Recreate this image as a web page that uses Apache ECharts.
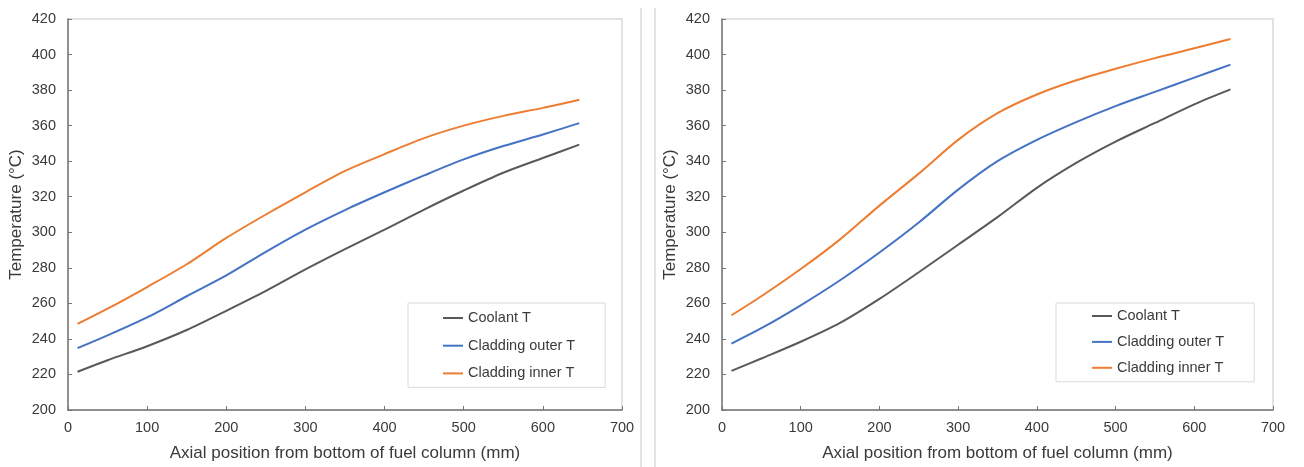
<!DOCTYPE html>
<html>
<head>
<meta charset="utf-8">
<script src="https://cdn.jsdelivr.net/npm/echarts@6/dist/echarts.min.js"></script>
<style>
  html, body { margin: 0; padding: 0; background: #fff; }
  #main { width: 1304px; height: 467px; }
</style>
</head>
<body>
<div id="main"></div>
<script>
// axial positions (mm) shared by both panels
var xPos = [12, 50, 100, 150, 200, 250, 300, 350, 400, 450, 500, 550, 600, 646];

// left panel temperatures (°C)
var leftCoolant = [221.5, 228, 235.9, 245, 255.8, 267, 279.1, 290.5, 301.5, 312.8, 323.5, 333.5, 341.8, 349.3];
var leftOuter   = [234.8, 242, 252.1, 264, 275.7, 289, 301.5, 312.5, 322.5, 332, 341, 348.5, 355, 361.4];
var leftInner   = [248.4, 257, 269.2, 282, 296.8, 310, 322.5, 334.5, 344, 353, 360, 365.5, 370, 374.6];

// right panel temperatures (°C)
var rightCoolant = [222, 229, 238.4, 249, 262.5, 277.5, 293, 308.5, 325, 339, 351, 361.5, 372, 380.4];
var rightOuter   = [237.4, 246, 258.9, 273, 288.6, 305.5, 324, 340, 352, 362, 371, 379, 387, 394.3];
var rightInner   = [253.3, 264, 279.3, 296, 315, 333, 352, 367, 377.5, 385.5, 392, 398, 403.5, 408.7];

var seriesNames = ['Coolant T', 'Cladding outer T', 'Cladding inner T'];
var colors = ['#595959', '#4472C4', '#ED7D31'];

function pairs(ys) {
  return ys.map(function (y, i) { return [xPos[i], y]; });
}

var axisColor = '#767676';
var labelStyle = { color: '#3a3a3a', fontSize: 14.5, fontFamily: 'Liberation Sans, Arial, sans-serif' };
var nameStyle = { color: '#3a3a3a', fontSize: 17, fontFamily: 'Liberation Sans, Arial, sans-serif' };

function xAxis(idx) {
  return {
    type: 'value', gridIndex: idx, min: 0, max: 700, interval: 100,
    name: 'Axial position from bottom of fuel column (mm)',
    nameLocation: 'middle', nameGap: 35, nameTextStyle: nameStyle,
    axisLine: { lineStyle: { color: axisColor, width: 1.5 } },
    axisTick: { inside: true, length: 4, lineStyle: { color: axisColor } },
    axisLabel: Object.assign({ margin: 10 }, labelStyle),
    splitLine: { show: false }
  };
}

function yAxis(idx) {
  return {
    type: 'value', gridIndex: idx, min: 200, max: 420, interval: 20,
    name: 'Temperature (°C)',
    nameLocation: 'middle', nameGap: 43, nameTextStyle: nameStyle,
    axisLine: { show: true, lineStyle: { color: axisColor, width: 1.5 } },
    axisTick: { show: true, inside: true, length: 4, lineStyle: { color: axisColor } },
    axisLabel: Object.assign({ margin: 12 }, labelStyle),
    splitLine: { show: false }
  };
}

function legend(idx, left, padding, gap) {
  return {
    show: true, orient: 'vertical', left: left, top: 303,
    data: seriesNames.map(function (n) { return n + (idx ? ' ' : ''); }),
    formatter: function (n) { return n.trim(); },
    icon: 'rect', itemWidth: 20, itemHeight: 2, itemGap: gap,
    padding: padding,
    borderColor: '#d9d9d9', borderWidth: 1, backgroundColor: '#fff',
    textStyle: { color: '#3a3a3a', fontSize: 14.5, lineHeight: 16, fontFamily: 'Liberation Sans, Arial, sans-serif' }
  };
}

function line(idx, nameIdx, ys) {
  return {
    type: 'line', name: seriesNames[nameIdx] + (idx ? ' ' : ''),
    xAxisIndex: idx, yAxisIndex: idx,
    data: pairs(ys), smooth: 0.3, symbol: 'none',
    lineStyle: { color: colors[nameIdx], width: 2 },
    itemStyle: { color: colors[nameIdx] }
  };
}

var option = {
  animation: false,
  grid: [
    { left: 68, top: 19, width: 554, height: 394, show: true, borderColor: '#d9d9d9', borderWidth: 1.5 },
    { left: 722, top: 19, width: 551, height: 395, show: true, borderColor: '#d9d9d9', borderWidth: 1.5 }
  ],
  xAxis: [xAxis(0), xAxis(1)],
  yAxis: [yAxis(0), yAxis(1)],
  legend: [
    legend(0, 408, [7, 30, 6, 35], 11.7),
    legend(1, 1056, [5, 30, 6, 36], 9.9)
  ],
  graphic: [
    { type: 'line', shape: { x1: 641, y1: 8, x2: 641, y2: 467 }, style: { stroke: '#c8c8c8', lineWidth: 1 } },
    { type: 'line', shape: { x1: 655, y1: 8, x2: 655, y2: 467 }, style: { stroke: '#c8c8c8', lineWidth: 1 } }
  ],
  series: [
    line(0, 0, leftCoolant), line(0, 1, leftOuter), line(0, 2, leftInner),
    line(1, 0, rightCoolant), line(1, 1, rightOuter), line(1, 2, rightInner)
  ]
};

var myChart = echarts.init(document.getElementById('main'));
myChart.setOption(option);
</script>
</body>
</html>
